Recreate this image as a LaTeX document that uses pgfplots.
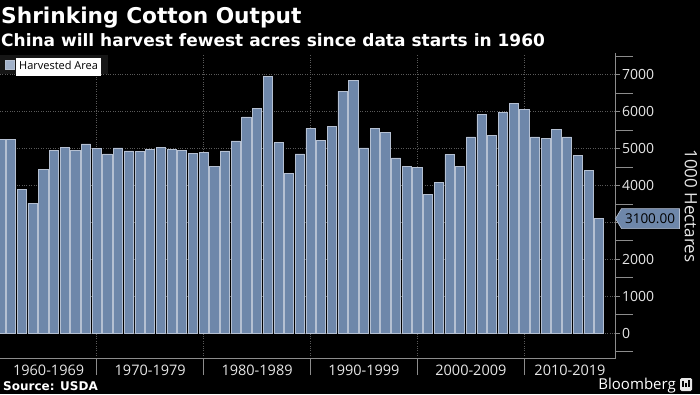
\documentclass[border=0pt]{standalone}
\usepackage{pgfplots}
\pgfplotsset{compat=1.18}
\usepackage{fontspec}
\setmainfont{Open Sans}
\newfontfamily\titlefont{DejaVu Sans}
\definecolor{barfill}{HTML}{6E87AA}
\definecolor{barline}{HTML}{B5C0D2}
\definecolor{legsq}{HTML}{A2B2CA}
\definecolor{gridc}{HTML}{5A5A5A}
\definecolor{axc}{HTML}{8C8C8C}
\definecolor{txt}{HTML}{E6E6E6}
\definecolor{legbg}{HTML}{161616}
\pgfplotstableread{
idx val
0 5240
1 5240
2 3890
3 3510
4 4430
5 4950
6 5030
7 4950
8 5120
9 5000
10 4850
11 5010
12 4930
13 4910
14 4970
15 5030
16 4970
17 4950
18 4860
19 4880
20 4520
21 4930
22 5200
23 5850
24 6080
25 6940
26 5150
27 4320
28 4850
29 5540
30 5220
31 5600
32 6550
33 6840
34 5010
35 5540
36 5440
37 4740
38 4500
39 4480
40 3750
41 4080
42 4840
43 4520
44 5310
45 5910
46 5350
47 5960
48 6210
49 6060
50 5310
51 5260
52 5510
53 5310
54 4810
55 4400
56 3100
}\areadata
\begin{document}
\begin{tikzpicture}
\fill[black] (0pt,0pt) rectangle (700pt,-394pt);
\node[anchor=base west, inner sep=0pt, text=white, font=\titlefont\bfseries\fontsize{21.7pt}{24pt}\selectfont] at (1pt,-23pt) {Shrinking Cotton Output};
\node[anchor=base west, inner sep=0pt, text=white, font=\titlefont\bfseries\fontsize{17pt}{19pt}\selectfont] at (1pt,-46pt) {China will harvest fewest acres since data starts in 1960};
\begin{axis}[
  at={(0pt,-53.3pt)}, anchor=north west,
  scale only axis, width=615.5pt, height=304.7pt,
  xmin=-0.047, xmax=57.53, ymin=-670, ymax=7570,
  axis x line*=bottom, axis y line*=right,
  axis line style={axc, line width=0.7pt},
  tick align=outside,
  xtick={4.5,14,24,34,44,53.27},
  xticklabels={1960-1969,1970-1979,1980-1989,1990-1999,2000-2009,2010-2019},
  minor xtick={9,19,29,39,49},
  major x tick style={draw=none},
  minor x tick style={axc, line width=0.6pt},
  minor tick length=17pt,
  xminorgrids=true,
  minor x grid style={gridc, dotted, line width=0.7pt},
  ytick={0,1000,2000,3000,4000,5000,6000,7000},
  yticklabels={0,1000,2000,,4000,5000,6000,7000},
  minor ytick={-500,500,1500,2500,3500,4500,5500,6500,7500},
  ymajorgrids=true,
  major y grid style={gridc, dotted, line width=0.7pt},
  major y tick style={axc, line width=1.2pt},
  minor y tick style={axc, line width=0.6pt},
  major tick length=4pt,
  /pgf/number format/assume math mode=true,
  /pgf/number format/1000 sep={},
  xticklabel style={text=txt, font=\fontsize{14.5pt}{16pt}\selectfont, yshift=1pt},
  yticklabel style={text=txt, font=\fontsize{14pt}{16pt}\selectfont, xshift=-1pt},
  legend style={at={(0,1)}, anchor=north west, yshift=-1.7pt, fill=legbg, draw=none,
    inner xsep=5pt, inner ysep=2pt, font=\fontsize{11pt}{12pt}\selectfont, text=black,
    nodes={inner xsep=1.5pt, inner ysep=1pt}},
  legend image code/.code={\draw[fill=legsq, draw=barline, line width=0.5pt] (0pt,-4.3pt) rectangle (9pt,4.3pt);},
]
\addplot[ybar, bar width=0.86, bar shift=0pt, fill=barfill, draw=barline, line width=0.7pt] table[x=idx, y=val] {\areadata};
\addlegendentry{\colorbox{white}{\strut Harvested Area}}
\coordinate (c3100) at (axis cs:57.53,3100);
\end{axis}
\draw[fill=barfill, draw=barline, line width=0.6pt] (c3100) -- ++(6pt,10pt) -- ++(58pt,0pt) -- ++(0pt,-20pt) -- ++(-58pt,0pt) -- cycle;
\node[text=black, font=\fontsize{13.5pt}{15pt}\selectfont, inner sep=0pt] at ([xshift=34.5pt]c3100) {3100.00};
\node[rotate=-90, text=txt, font=\fontsize{17pt}{19pt}\selectfont, inner sep=0pt] at (691pt,-206pt) {1000 Hectares};
\node[anchor=base west, inner sep=0pt, text=white, font=\titlefont\bfseries\fontsize{12pt}{14pt}\selectfont] at (3pt,-390pt) {Source: USDA};
\node[anchor=base east, inner sep=0pt, text=white, font=\fontsize{15pt}{17pt}\selectfont] at (676pt,-389.5pt) {Bloomberg};
\fill[txt, rounded corners=1.5pt] (680pt,-378pt) rectangle (692pt,-391pt);
\fill[black] (682pt,-387pt) rectangle (683.5pt,-381pt);
\fill[black] (685pt,-387pt) rectangle (686.5pt,-383pt);
\fill[black] (688pt,-387pt) rectangle (689.5pt,-380pt);
\pgfresetboundingbox
\useasboundingbox (0pt,0pt) rectangle (700pt,-394pt);
\end{tikzpicture}
\end{document}
